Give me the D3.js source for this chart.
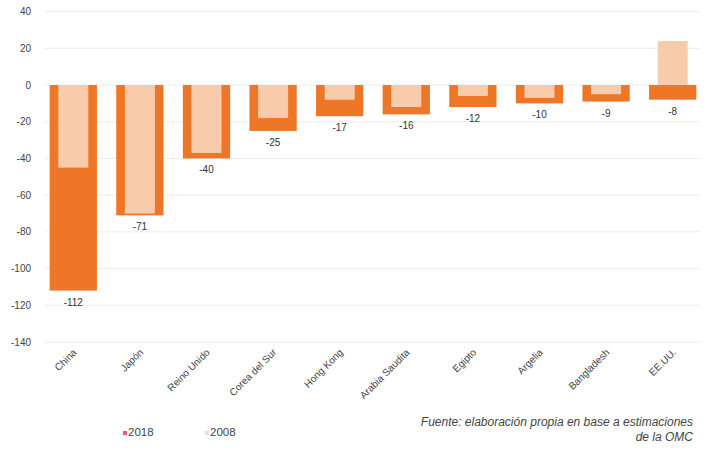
<!DOCTYPE html>
<html>
<head>
<meta charset="utf-8">
<script src="https://cdn.jsdelivr.net/npm/d3@7"></script>
<style>
  body { margin: 0; background: #fff; }
  text { font-family: "Liberation Sans", Arial, sans-serif; }
</style>
</head>
<body>
<svg id="chart" width="708" height="457"></svg>
<script>
// data
const paises = ["China", "Japón", "Reino Unido", "Corea del Sur", "Hong Kong",
  "Arabia Saudita", "Egipto", "Argelia", "Bangladesh", "EE.UU."];
const v2018 = [-112, -71, -40, -25, -17, -16, -12, -10, -9, -8];
const v2008 = [-45, -70, -37, -18, -8, -12, -6, -7, -5, 24];
const yTicks = [40, 20, 0, -20, -40, -60, -80, -100, -120, -140];

const svg = d3.select("#chart");

const x = d3.scaleBand()
  .domain(paises)
  .range([40, 706])
  .paddingInner(0.29)
  .paddingOuter(0.145);

const y = d3.scaleLinear()
  .domain([-140, 40])
  .range([342, 11.6]);

// gridlines
svg.append("g")
  .selectAll("line")
  .data(yTicks)
  .join("line")
  .attr("x1", 45)
  .attr("x2", 700)
  .attr("y1", d => y(d))
  .attr("y2", d => y(d))
  .attr("stroke", "#ececec")
  .attr("stroke-width", 1);

// y axis labels
svg.append("g")
  .selectAll("text")
  .data(yTicks)
  .join("text")
  .attr("x", 31)
  .attr("y", d => y(d) + 3.5)
  .attr("text-anchor", "end")
  .attr("font-size", 10)
  .attr("fill", "#444")
  .text(d => d);

// 2018 bars (wide, dark orange)
svg.append("g")
  .selectAll("rect")
  .data(paises)
  .join("rect")
  .attr("x", d => x(d))
  .attr("width", x.bandwidth())
  .attr("y", (d, i) => Math.min(y(0), y(v2018[i])))
  .attr("height", (d, i) => Math.abs(y(v2018[i]) - y(0)))
  .attr("fill", "#ee7727");

// 2008 bars (narrow, peach)
const inner = 30;
svg.append("g")
  .selectAll("rect")
  .data(paises)
  .join("rect")
  .attr("x", d => x(d) + (x.bandwidth() - inner) / 2)
  .attr("width", inner)
  .attr("y", (d, i) => Math.min(y(0), y(v2008[i])))
  .attr("height", (d, i) => Math.abs(y(v2008[i]) - y(0)))
  .attr("fill", "#f8cbaa");

// value labels for 2018
svg.append("g")
  .selectAll("text")
  .data(paises)
  .join("text")
  .attr("x", d => x(d) + x.bandwidth() / 2)
  .attr("y", (d, i) => y(v2018[i]) + 15)
  .attr("text-anchor", "middle")
  .attr("font-size", 10)
  .attr("fill", "#333")
  .text((d, i) => v2018[i]);

// category labels
svg.append("g")
  .selectAll("text")
  .data(paises)
  .join("text")
  .attr("transform", d => `translate(${x(d) + x.bandwidth() / 2 + 4},${353}) rotate(-45)`)
  .attr("text-anchor", "end")
  .attr("font-size", 10)
  .attr("fill", "#444")
  .text(d => d);

// legend
const legend = [["2018", "#e0607a"], ["2008", "#e8dcdc"]];
const lg = svg.append("g")
  .selectAll("g")
  .data(legend)
  .join("g")
  .attr("transform", (d, i) => `translate(${123 + i * 82},436)`);
lg.append("rect")
  .attr("x", 0).attr("y", -5)
  .attr("width", 4).attr("height", 4)
  .attr("fill", d => d[1]);
lg.append("text")
  .attr("x", 5).attr("y", 0)
  .attr("font-size", 11.5)
  .attr("fill", "#444")
  .text(d => d[0]);

// source
const fuente = ["Fuente: elaboración propia en base a estimaciones", "de la OMC"];
svg.append("g")
  .selectAll("text")
  .data(fuente)
  .join("text")
  .attr("x", 693)
  .attr("y", (d, i) => 426 + i * 15)
  .attr("text-anchor", "end")
  .attr("font-size", 12)
  .attr("font-style", "italic")
  .attr("fill", "#444")
  .text(d => d);
</script>
</body>
</html>
